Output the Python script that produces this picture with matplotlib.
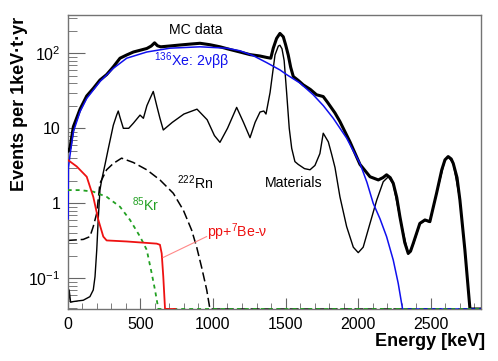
import numpy as np
import matplotlib
matplotlib.use('Agg')
import matplotlib.pyplot as plt
from matplotlib.ticker import FixedLocator, FixedFormatter, MultipleLocator, LogLocator, NullFormatter

plt.rcParams['font.family'] = ['Liberation Sans', 'DejaVu Sans']
plt.rcParams['mathtext.fontset'] = 'custom'
plt.rcParams['mathtext.rm'] = 'Liberation Sans'
plt.rcParams['mathtext.it'] = 'Liberation Sans:italic'
plt.rcParams['mathtext.bf'] = 'Liberation Sans:bold'

# ── axis limits ───────────────────────────────────────────────
XMAX = 2845
YMIN, YMAX = 0.039, 324
FLOOR = YMIN  # curves that fall off the plot are drawn along the bottom

# ── MC data (sum) ─────────────────────────────────────────────
mc_e = [5, 16, 39, 85, 131, 176, 222, 268, 314, 360, 406, 452, 500, 545, 575,
        598, 618, 640, 700, 773, 850, 911, 980, 1049, 1120, 1186, 1255, 1324,
        1370, 1398, 1415, 1438, 1461, 1484, 1500, 1518, 1535, 1553, 1590, 1621,
        1670, 1713, 1759, 1790, 1805, 1840, 1874, 1943, 2012, 2081, 2138, 2170,
        2195, 2220, 2241, 2265, 2287, 2320, 2344, 2360, 2378, 2424, 2459, 2493,
        2539, 2575, 2597, 2619, 2640, 2654, 2680, 2700, 2734, 2769, 2845]
mc_y = [5, 5.5, 10.5, 18, 27, 34, 44, 52, 66, 86, 95, 104, 110, 116, 125,
        138, 126, 122, 125, 129, 133, 136, 130, 122, 112, 104, 96, 92,
        88, 86, 117, 158, 184, 166, 130, 95, 65, 49, 43, 38,
        33, 28, 26.5, 22, 20, 16, 12.3, 6.6, 3.3, 2.26, 2.05, 2.2,
        2.4, 2.2, 1.85, 1.2, 0.66, 0.3, 0.215, 0.23, 0.29, 0.54, 0.6, 0.57,
        1.36, 2.8, 3.8, 4.2, 3.9, 3.4, 2.2, 1.1, 0.24, FLOOR, FLOOR]

# ── 136Xe 2vbb ────────────────────────────────────────────────
xe_e = [3, 5, 16, 39, 85, 131, 222, 314, 406, 544, 704, 911, 1094, 1186,
        1277, 1370, 1461, 1507, 1600, 1690, 1760, 1828, 1920, 2012, 2060,
        2103, 2150, 2195, 2241, 2275, 2305, 2845]
xe_y = [0.62, 3.0, 4.4, 9, 16.7, 25, 42, 63, 86, 104, 117, 122, 117, 108,
        93, 75, 60, 52, 40, 28, 20, 13.6, 7.4, 3.4, 1.9,
        1.0, 0.62, 0.36, 0.175, 0.086, FLOOR, FLOOR]

# ── Materials ─────────────────────────────────────────────────
mat_e = [0, 5, 10, 20, 39, 70, 107, 153, 176, 188, 200, 211, 222, 234, 257,
         279, 314, 337, 348, 360, 383, 420, 452, 498, 521, 545, 567, 589, 613,
         635, 658, 720, 800, 890, 960, 1010, 1048, 1100, 1163, 1210, 1255,
         1290, 1324, 1350, 1365, 1393, 1427, 1450, 1461, 1475, 1490, 1507,
         1525, 1542, 1564, 1587, 1630, 1668, 1702, 1736, 1759, 1794, 1817,
         1840, 1874, 1920, 1966, 2000, 2034, 2081, 2127, 2172, 2207, 2241,
         2287, 2344, 2378, 2424, 2459, 2493, 2539, 2597, 2619, 2654, 2700,
         2734, 2769, 2845]
mat_y = [0.13, 0.05, 0.07, 0.048, 0.049, 0.05, 0.051, 0.057, 0.07, 0.105,
         0.24, 0.66, 1.5, 2.05, 3.3, 5.3, 11, 15, 17, 14, 10, 10, 11.7, 15,
         13.6, 20, 25, 31, 20, 13.6, 9.5, 12, 15.5, 18, 13, 8, 6.5, 10, 19,
         12, 7.5, 12, 16.5, 17, 15.5, 30, 95, 125, 128, 115, 80, 30, 10, 5.4,
         3.6, 3.3, 2.9, 2.8, 3.2, 4.6, 8.6, 6.6, 4.5, 3.0, 1.22, 0.49, 0.26,
         0.22, 0.26, 0.54, 1.1, 1.94, 2.26, 1.8, 0.64, 0.21, 0.28, 0.53,
         0.59, 0.56, 1.35, 3.8, 4.2, 3.4, 1.1, 0.24, FLOOR, FLOOR]

# ── 222Rn ─────────────────────────────────────────────────────
rn_e = [0, 107, 153, 176, 200, 222, 268, 314, 371, 452, 544, 635, 727, 796,
        853, 888, 922, 957, 979, 2845]
rn_y = [0.32, 0.33, 0.36, 0.49, 0.74, 1.85, 2.8, 3.4, 4.0, 3.5, 2.8, 2.05,
        1.36, 0.81, 0.44, 0.26, 0.14, 0.07, FLOOR, FLOOR]

# ── 85Kr ──────────────────────────────────────────────────────
kr_e = [0, 85, 176, 268, 360, 429, 498, 544, 578, 601, 624, 2845]
kr_y = [1.5, 1.5, 1.43, 1.22, 0.9, 0.6, 0.36, 0.24, 0.117, 0.07, FLOOR, FLOOR]

# ── pp + 7Be solar neutrinos ──────────────────────────────────
pp_e = [0, 62, 131, 176, 211, 245, 268, 406, 613, 635, 647, 658, 670, 740]
pp_y = [3.8, 3.1, 2.26, 1.22, 0.6, 0.36, 0.32, 0.31, 0.29, 0.28, 0.215,
        0.105, FLOOR, FLOOR]

fig = plt.figure(figsize=(4.98, 3.61), dpi=100)
ax = fig.add_axes([67.7 / 498, 1 - 309 / 361, (481 - 67.7) / 498, (309 - 15) / 361])

ax.plot(mc_e, mc_y, color='black', lw=2.2, zorder=3)
ax.plot(mat_e, mat_y, color='black', lw=1.0, zorder=2)
ax.plot(xe_e, xe_y, color='#1010ee', lw=1.1, zorder=4)
ax.plot(rn_e, rn_y, color='black', lw=1.1, dashes=(6, 2.5), zorder=2)
ax.plot(kr_e, kr_y, color='#22a022', lw=1.3, dashes=(2.2, 2.2), zorder=5)
ax.plot(pp_e, pp_y, color='#ee1111', lw=1.3, zorder=6)
ax.plot([658, 956], [0.19, 0.36], color='#ff8888', lw=0.8, zorder=6)

tkw = dict(fontsize=10.2)
ax.text(880, 205, 'MC data', ha='center', va='center', color='black', **tkw)
ax.text(849, 79, r'$^{136}$Xe: 2νββ', ha='center', va='center', color='#1010ee', **tkw)
ax.text(753, 1.87, r'$^{222}$Rn', ha='left', va='center', color='black', **tkw)
ax.text(443, 0.95, r'$^{85}$Kr', ha='left', va='center', color='#22a022', **tkw)
ax.text(1358, 1.87, 'Materials', ha='left', va='center', color='black', **tkw)
ax.text(958, 0.41, r'pp+$^{7}$Be-ν', ha='left', va='center', color='#ee1111', **tkw)

ax.set_xlim(0, XMAX)
ax.set_yscale('log')
ax.set_ylim(YMIN, YMAX)

ax.xaxis.set_major_locator(MultipleLocator(500))
ax.xaxis.set_minor_locator(MultipleLocator(100))
ax.yaxis.set_major_locator(FixedLocator([0.1, 1, 10, 100]))
ax.yaxis.set_major_formatter(FixedFormatter([r'$10^{-1}$', '1', '10', r'$10^{2}$']))
ax.yaxis.set_minor_locator(LogLocator(base=10, subs=np.arange(2, 10)))
ax.yaxis.set_minor_formatter(NullFormatter())

ax.tick_params(which='both', direction='in', top=False, right=False,
               color='0.4', labelsize=11.5)
ax.tick_params(axis='x', which='major', length=8, pad=6)
ax.tick_params(axis='x', which='minor', length=4)
ax.tick_params(axis='y', which='major', length=12, pad=5)
ax.tick_params(axis='y', which='minor', length=6.5)
for s in ax.spines.values():
    s.set_color('0.45')
    s.set_linewidth(1.0)

fig.text(20 / 498, 1 - 17 / 361, 'Events per 1keV·t·yr', rotation=90,
         ha='center', va='top', fontsize=13, fontweight='bold')
fig.text(485 / 498, 1 - 341.7 / 361, 'Energy [keV]', ha='right', va='center',
         fontsize=13, fontweight='bold')

fig.savefig('out.png', dpi=100)
